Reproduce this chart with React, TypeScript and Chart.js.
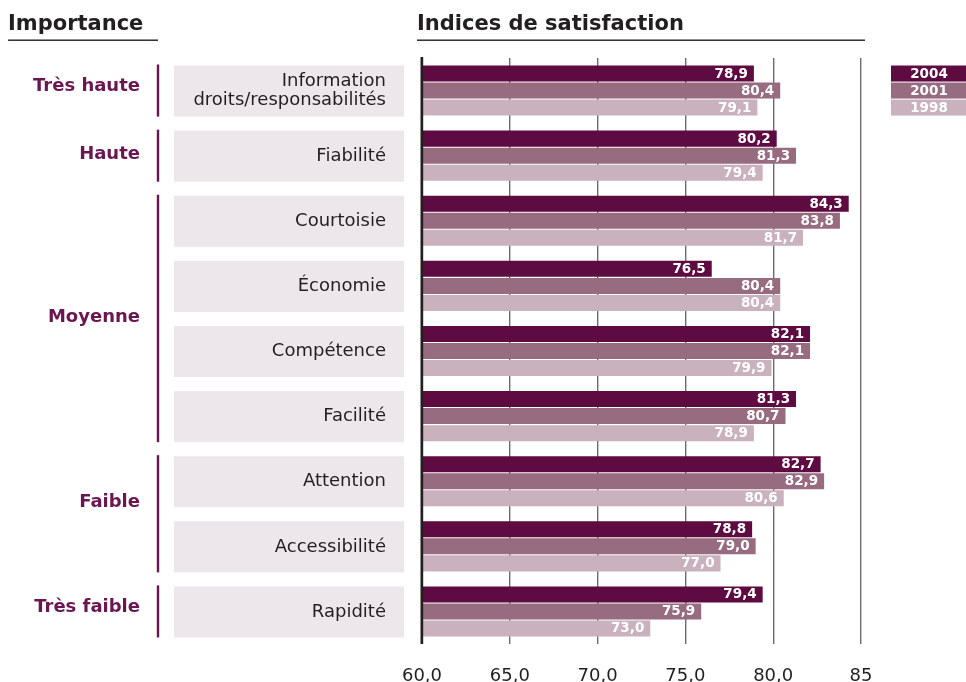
import React, { useEffect, useRef } from "react";
import { Chart, registerables } from "chart.js";

Chart.register(...registerables);

// ---- data ----
const categories: (string | string[])[] = [
  ["Information", "droits/responsabilités"],
  "Fiabilité",
  "Courtoisie",
  "Économie",
  "Compétence",
  "Facilité",
  "Attention",
  "Accessibilité",
  "Rapidité",
];
const seriesNames = ["2004", "2001", "1998"];
const values2004 = [78.9, 80.2, 84.3, 76.5, 82.1, 81.3, 82.7, 78.8, 79.4];
const values2001 = [80.4, 81.3, 83.8, 80.4, 82.1, 80.7, 82.9, 79.0, 75.9];
const values1998 = [79.1, 79.4, 81.7, 80.4, 79.9, 78.9, 80.6, 77.0, 73.0];
const tickLabels = ["60,0", "65,0", "70,0", "75,0", "80,0", "85"];
const importanceLabels = ["Très haute", "Haute", "Moyenne", "Faible", "Très faible"];
const importanceFrom = [0, 1, 2, 6, 8];
const importanceTo = [0, 1, 5, 7, 8];
const importanceDy = [-4, -1, -1, -11, -4];

// ---- styles ----
const COLORS = ["#5e0b41", "#976b80", "#c9b1bd"];
const TEXT = "#231f20";
const PURPLE = "#6a1650";
const BOX = "#ede7eb";
const FONT = '"DejaVu Sans", Verdana, sans-serif';

const fmt = (v: number) => v.toFixed(1).replace(".", ",");

const decor = {
  id: "decor",
  afterDatasetsDraw(chart: any) {
    const ctx = chart.ctx as CanvasRenderingContext2D;
    const area = chart.chartArea;
    const xs = chart.scales.x;
    // axis line on top of bars
    const x0 = xs.getPixelForValue(60);
    ctx.save();
    ctx.fillStyle = TEXT;
    ctx.fillRect(x0 - 1.5, area.top - 1, 2.7, area.bottom - area.top + 1);
    ctx.restore();
    // value labels
    chart.data.datasets.forEach((ds: any, di: number) => {
      const meta = chart.getDatasetMeta(di);
      meta.data.forEach((el: any, i: number) => {
        ctx.save();
        ctx.font = `bold 13.5px ${FONT}`;
        ctx.fillStyle = "#ffffff";
        ctx.textAlign = "right";
        ctx.textBaseline = "middle";
        ctx.fillText(fmt(ds.data[i]), el.x - 6, el.y + 0.5);
        ctx.restore();
      });
    });
  },
  afterDraw(chart: any) {
    const ctx = chart.ctx as CanvasRenderingContext2D;
    const area = chart.chartArea;
    const m0 = chart.getDatasetMeta(0).data;
    const m2 = chart.getDatasetMeta(2).data;
    const top = (i: number) => m0[i].y - m0[i].height / 2;
    const bot = (i: number) => m2[i].y + m2[i].height / 2;

    ctx.save();
    // headers
    ctx.fillStyle = TEXT;
    ctx.font = `bold 21px ${FONT}`;
    ctx.textAlign = "left";
    ctx.textBaseline = "alphabetic";
    ctx.fillText("Importance", 8, 30);
    ctx.fillText("Indices de satisfaction", area.left - 5, 30);
    ctx.fillStyle = TEXT;
    ctx.fillRect(8, 39.5, 150, 1.4);
    ctx.fillRect(area.left - 5, 39.5, area.right - area.left + 9, 1.4);

    // category boxes + labels
    categories.forEach((c, i) => {
      const t = top(i);
      const b = bot(i) + 1;
      ctx.fillStyle = BOX;
      ctx.fillRect(174, t, 230, b - t);
      ctx.fillStyle = TEXT;
      ctx.font = `18px ${FONT}`;
      ctx.textAlign = "right";
      ctx.textBaseline = "middle";
      const lines = Array.isArray(c) ? c : [c];
      const mid = (t + b) / 2;
      const lh = 19.5;
      lines.forEach((ln, k) => {
        const y = mid + (k - (lines.length - 1) / 2) * lh;
        ctx.fillText(ln, 386, y);
      });
    });

    // importance groups
    importanceLabels.forEach((lab, g) => {
      const t = top(importanceFrom[g]) - 1;
      const b = bot(importanceTo[g]) + 1;
      ctx.fillStyle = PURPLE;
      ctx.fillRect(156.8, t, 2.4, b - t);
      ctx.font = `bold 18px ${FONT}`;
      ctx.textAlign = "right";
      ctx.textBaseline = "middle";
      ctx.fillText(lab, 140, (t + b) / 2 + importanceDy[g]);
    });

    // legend
    seriesNames.forEach((name, k) => {
      const el = chart.getDatasetMeta(k).data[0];
      const t = el.y - el.height / 2;
      ctx.fillStyle = COLORS[k];
      ctx.fillRect(area.right + 30, t, chart.width - area.right - 30, el.height);
      ctx.fillStyle = "#ffffff";
      ctx.font = `bold 13.5px ${FONT}`;
      ctx.textAlign = "center";
      ctx.textBaseline = "middle";
      ctx.fillText(name, 929, el.y + 0.5);
    });
    ctx.restore();
  },
};

export default function App() {
  const ref = useRef<HTMLCanvasElement | null>(null);

  useEffect(() => {
    if (!ref.current) return;
    const labels = categories.map((c) => (Array.isArray(c) ? c.join(" ") : c));
    const chart = new Chart(ref.current, {
      type: "bar",
      data: {
        labels,
        datasets: [values2004, values2001, values1998].map((vals, k) => ({
          label: seriesNames[k],
          data: vals,
          backgroundColor: COLORS[k],
          borderWidth: 0,
          base: 60,
          categoryPercentage: 0.785,
          barPercentage: 0.94,
        })),
      },
      options: {
        indexAxis: "y",
        responsive: false,
        animation: false,
        layout: { padding: { left: 422, right: 105, top: 58, bottom: 0 } },
        plugins: {
          legend: { display: false },
          tooltip: { enabled: false },
        },
        scales: {
          y: { type: "category", display: false },
          x: {
            type: "linear",
            min: 60,
            max: 85,
            afterFit: (scale: any) => {
              scale.height = 38;
            },
            ticks: {
              stepSize: 5,
              padding: 22,
              color: TEXT,
              font: { family: FONT, size: 18 },
              maxRotation: 0,
              callback: (_v: any, i: number) => tickLabels[i],
            },
            grid: {
              drawTicks: false,
              color: "#6f6b6c",
              lineWidth: 1.4,
            },
            border: { display: false },
          },
        },
      } as any,
      plugins: [decor],
    });
    return () => chart.destroy();
  }, []);

  return (
    <canvas
      ref={ref}
      width={966}
      height={682}
      style={{ position: "fixed", left: 0, top: 0, width: 966, height: 682 }}
    />
  );
}
